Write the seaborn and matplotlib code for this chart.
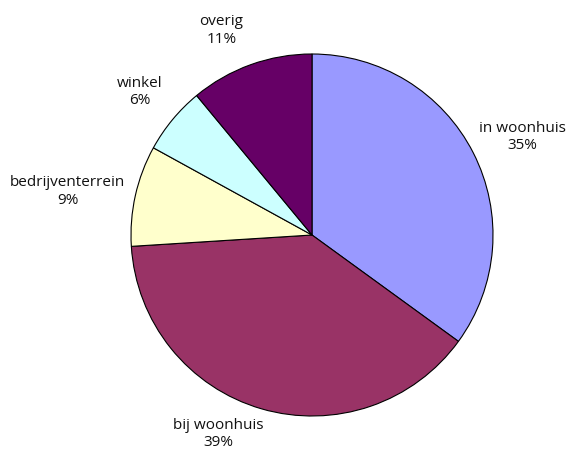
import matplotlib
matplotlib.use("Agg")
import matplotlib.pyplot as plt
import seaborn as sns

# 数据：位置类别与占比（%）
categories = ["in woonhuis", "bij woonhuis", "bedrijventerrein", "winkel", "overig"]
shares = [35, 39, 9, 6, 11]
colors = ["#9999FF", "#993366", "#FFFFCC", "#CCFFFF", "#660066"]

# 标签位置（数据坐标，饼图半径 = 1）
label_xy = [(1.16, 0.54), (-0.52, -1.10), (-1.35, 0.24), (-0.95, 0.79), (-0.50, 1.13)]

sns.set_theme(style="white")
plt.rcParams["font.family"] = ["Open Sans", "DejaVu Sans"]

fig = plt.figure(figsize=(5.71, 4.54), dpi=100)
ax = fig.add_axes([0, 0, 1, 1])
ax.pie(shares, colors=colors, startangle=90, counterclock=False,
       wedgeprops=dict(edgecolor="black", linewidth=0.8))
# 像素映射：中心 (312, 235)，半径 181
ax.set_xlim(-312 / 181, (571 - 312) / 181)
ax.set_ylim(-(454 - 235) / 181, 235 / 181)
ax.set_aspect("auto")
ax.axis("off")

for (x, y), cat, val in zip(label_xy, categories, shares):
    ax.text(x, y, f"{cat}\n{val}%", ha="center", va="center", fontsize=11,
            color="#111111", linespacing=1.2)

fig.savefig("out.png", dpi=100)
